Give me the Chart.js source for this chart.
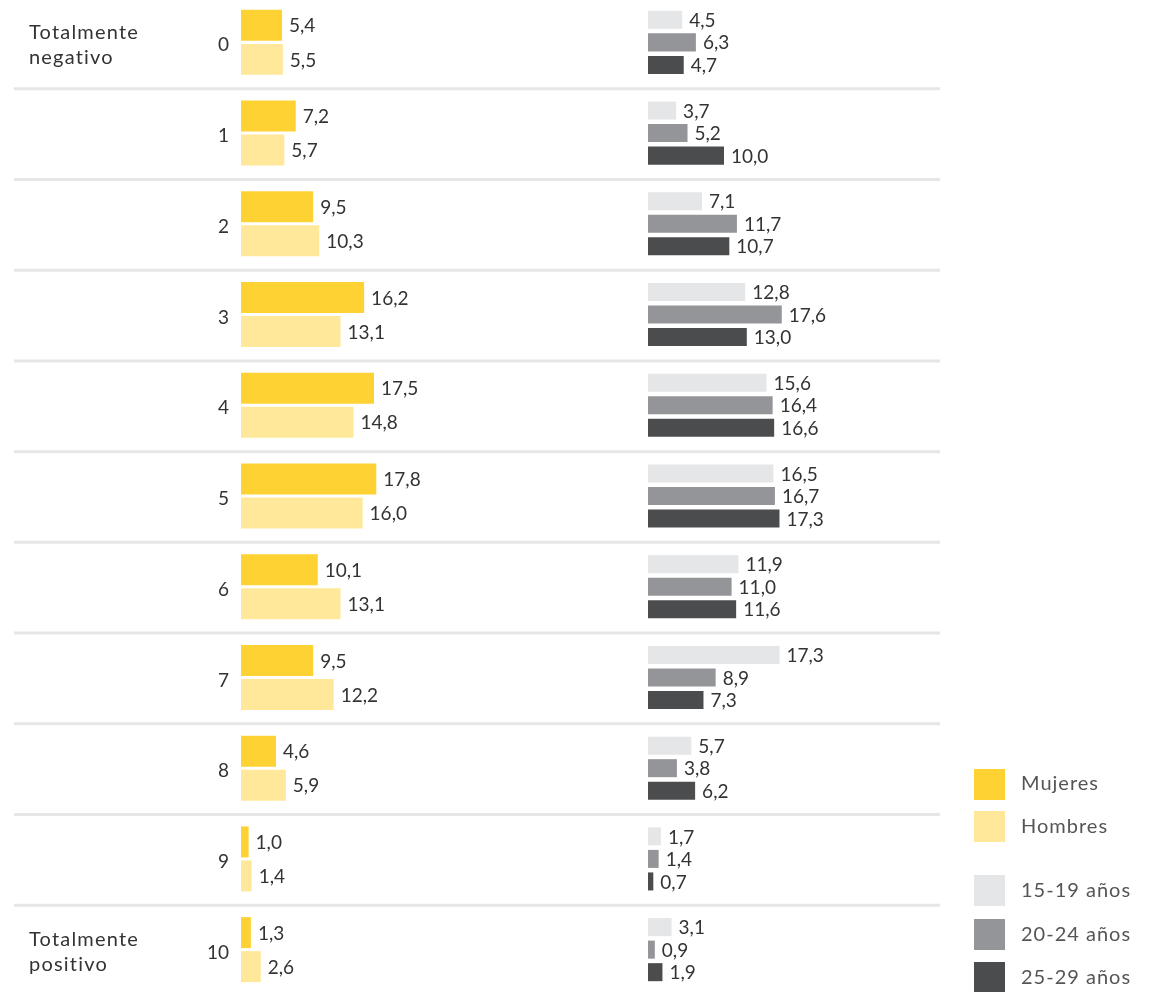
<!DOCTYPE html>
<html>
<head>
<meta charset="utf-8">
<script src="https://cdn.jsdelivr.net/npm/chart.js@4"></script>
<style>
  body { margin: 0; background: #fff; width: 1158px; height: 992px; overflow: hidden; position: relative; font-family: Lato, sans-serif; }
  canvas.capa { position: absolute; left: 0; top: -3px; }
  .extremo { position: absolute; left: 29px; font-size: 20px; letter-spacing: 1.2px; line-height: 25px; color: #333; }
  .leyenda { position: absolute; left: 974px; }
  .leyenda div { position: absolute; left: 0; width: 31px; height: 31px; }
  .leyenda span { position: absolute; left: 47px; font-size: 20px; letter-spacing: 1px; color: #555; white-space: nowrap; line-height: 31px; }
</style>
</head>
<body>
<canvas id="chartGenero" class="capa" width="1158" height="998"></canvas>
<canvas id="chartEdad" class="capa" width="1158" height="998"></canvas>

<div class="extremo" style="top:19px">Totalmente<br>negativo</div>
<div class="extremo" style="top:926px">Totalmente<br>positivo</div>

<div class="leyenda">
  <div style="top:769px;background:#FFD233"></div><span style="top:767px">Mujeres</span>
  <div style="top:811px;background:#FFE899"></div><span style="top:810px">Hombres</span>
  <div style="top:875px;background:#E5E6E8"></div><span style="top:874px">15-19 años</span>
  <div style="top:919px;background:#939598"></div><span style="top:918px">20-24 años</span>
  <div style="top:962px;background:#4B4C4E"></div><span style="top:961px">25-29 años</span>
</div>

<script>
// Escala 0 (totalmente negativo) a 10 (totalmente positivo)
const escala = ["0", "1", "2", "3", "4", "5", "6", "7", "8", "9", "10"];

// Por sexo (%)
const mujeres = [5.4, 7.2, 9.5, 16.2, 17.5, 17.8, 10.1, 9.5, 4.6, 1.0, 1.3];
const hombres = [5.5, 5.7, 10.3, 13.1, 14.8, 16.0, 13.1, 12.2, 5.9, 1.4, 2.6];

// Por edad (%)
const edad15a19 = [4.5, 3.7, 7.1, 12.8, 15.6, 16.5, 11.9, 17.3, 5.7, 1.7, 3.1];
const edad20a24 = [6.3, 5.2, 11.7, 17.6, 16.4, 16.7, 11.0, 8.9, 3.8, 1.4, 0.9];
const edad25a29 = [4.7, 10.0, 10.7, 13.0, 16.6, 17.3, 11.6, 7.3, 6.2, 0.7, 1.9];

const PX_POR_UNIDAD = 7.6;
const FUENTE = "19px Lato, sans-serif";

const formato = v => v.toFixed(1).replace(".", ",");

// etiquetas de valor al final de cada barra
const etiquetasValor = {
  id: "etiquetasValor",
  afterDatasetsDraw(chart) {
    const ctx = chart.ctx;
    ctx.save();
    ctx.font = FUENTE;
    ctx.fillStyle = "#333";
    ctx.textAlign = "left";
    ctx.textBaseline = "middle";
    chart.data.datasets.forEach((ds, i) => {
      chart.getDatasetMeta(i).data.forEach((bar, j) => {
        ctx.fillText(formato(ds.data[j]), bar.x + 7, bar.y + 1);
      });
    });
    ctx.restore();
  }
};

// separadores de filas y números de la escala
const filas = {
  id: "filas",
  beforeDatasetsDraw(chart) {
    const ctx = chart.ctx;
    const y = chart.scales.y;
    ctx.save();
    ctx.strokeStyle = "#E6E6E6";
    ctx.lineWidth = 3;
    for (let i = 0; i < escala.length - 1; i++) {
      const yy = (y.getPixelForValue(i) + y.getPixelForValue(i + 1)) / 2 + 1;
      ctx.beginPath();
      ctx.moveTo(14, yy);
      ctx.lineTo(940, yy);
      ctx.stroke();
    }
    ctx.font = FUENTE;
    ctx.fillStyle = "#333";
    ctx.textAlign = "right";
    ctx.textBaseline = "middle";
    escala.forEach((t, i) => ctx.fillText(t, 229, y.getPixelForValue(i) + 3));
    ctx.restore();
  }
};

function opciones(izq, ancho) {
  return {
    indexAxis: "y",
    responsive: false,
    animation: false,
    layout: { padding: { left: izq, right: 0, top: 0, bottom: 0 } },
    scales: {
      x: { display: false, min: 0, max: ancho / PX_POR_UNIDAD },
      y: { display: false }
    },
    plugins: { legend: { display: false }, tooltip: { enabled: false } }
  };
}

new Chart(document.getElementById("chartGenero"), {
  type: "bar",
  data: {
    labels: escala,
    datasets: [
      { label: "Mujeres", data: mujeres, backgroundColor: "#FFD233", categoryPercentage: 0.75, barPercentage: 0.91 },
      { label: "Hombres", data: hombres, backgroundColor: "#FFE899", categoryPercentage: 0.75, barPercentage: 0.91 }
    ]
  },
  options: opciones(241, 1158 - 241),
  plugins: [filas, etiquetasValor]
});

new Chart(document.getElementById("chartEdad"), {
  type: "bar",
  data: {
    labels: escala,
    datasets: [
      { label: "15-19 años", data: edad15a19, backgroundColor: "#E5E6E8", categoryPercentage: 0.745, barPercentage: 0.8 },
      { label: "20-24 años", data: edad20a24, backgroundColor: "#939598", categoryPercentage: 0.745, barPercentage: 0.8 },
      { label: "25-29 años", data: edad25a29, backgroundColor: "#4B4C4E", categoryPercentage: 0.745, barPercentage: 0.8 }
    ]
  },
  options: opciones(648, 1158 - 648),
  plugins: [etiquetasValor]
});
</script>
</body>
</html>
